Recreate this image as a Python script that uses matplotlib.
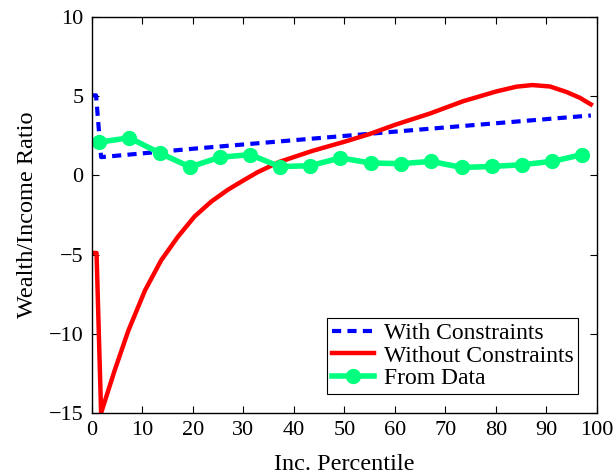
import numpy as np
import matplotlib.pyplot as plt

# with constraints (dashed blue)
with_x = [0, 0.8, 1.8, 20, 40, 60, 80, 98.8]
with_y = [5.05, 5.05, 1.15, 1.68, 2.22, 2.76, 3.29, 3.78]

# without constraints (solid red)
wo_x = [0, 0.9, 1.8, 4.5, 7.2, 10.5, 13.7, 17.0, 20.3, 23.6, 26.9, 30.2, 32.8,
        37.1, 43.7, 50.3, 54.9, 60.1, 66.9, 73.5, 80.1, 84.1, 87.2, 90.7, 94.0,
        96.6, 98.8]
wo_y = [-4.9, -4.9, -15.0, -12.3, -9.8, -7.26, -5.36, -3.88, -2.6, -1.66, -0.91, -0.28, 0.2,
        0.85, 1.55, 2.15, 2.6, 3.2, 3.9, 4.68, 5.3, 5.6, 5.7, 5.61, 5.26,
        4.9, 4.48]

# from data (green markers)
data_x = [1.3, 7.4, 13.4, 19.4, 25.3, 31.3, 37.2, 43.2, 49.2, 55.2, 61.2, 67.2,
          73.2, 79.2, 85.1, 91.1, 97.1]
data_y = [2.09, 2.37, 1.41, 0.53, 1.14, 1.31, 0.55, 0.61, 1.10, 0.78, 0.74, 0.88,
          0.50, 0.56, 0.67, 0.88, 1.31]

plt.rcParams['font.family'] = ['Liberation Serif', 'DejaVu Serif']

fig = plt.figure(figsize=(6.15, 4.76), dpi=100)
ax = fig.add_axes([0.1496, 0.1324, 0.821, 0.832])

ax.plot(with_x, with_y, color='#0000ff', lw=3, ls=(0, (2.2, 1.5)), label='With Constraints')
ax.plot(wo_x, wo_y, color='#ff0000', lw=3.2, label='Without Constraints')
ax.plot(data_x, data_y, color='#00ff7f', lw=4, marker='o', ms=10, label='From Data')

ax.set_xlim(0, 100)
ax.set_ylim(-15, 10)
ax.set_xticks(np.arange(0, 101, 10))
ax.set_yticks([-15, -10, -5, 0, 5, 10])
ax.set_yticklabels(['\u221215', '\u221210', '\u22125', '0', '5', '10'])
ax.tick_params(direction='in', top=True, right=True, labelsize=16, length=5, width=0.8, pad=6)
for s in ax.spines.values():
    s.set_linewidth(1.0)

ax.set_xlabel('Inc. Percentile', fontsize=17.5, labelpad=10)
ax.set_ylabel('Wealth/Income Ratio', fontsize=17.5, labelpad=8)

leg = ax.legend(loc='lower right', fontsize=17, fancybox=False, framealpha=1,
                edgecolor='black', borderpad=0.2, labelspacing=0.05, handlelength=1.8,
                handletextpad=0.4, borderaxespad=0.8)
leg.get_frame().set_linewidth(0.8)

fig.savefig('out.png', dpi=100)
